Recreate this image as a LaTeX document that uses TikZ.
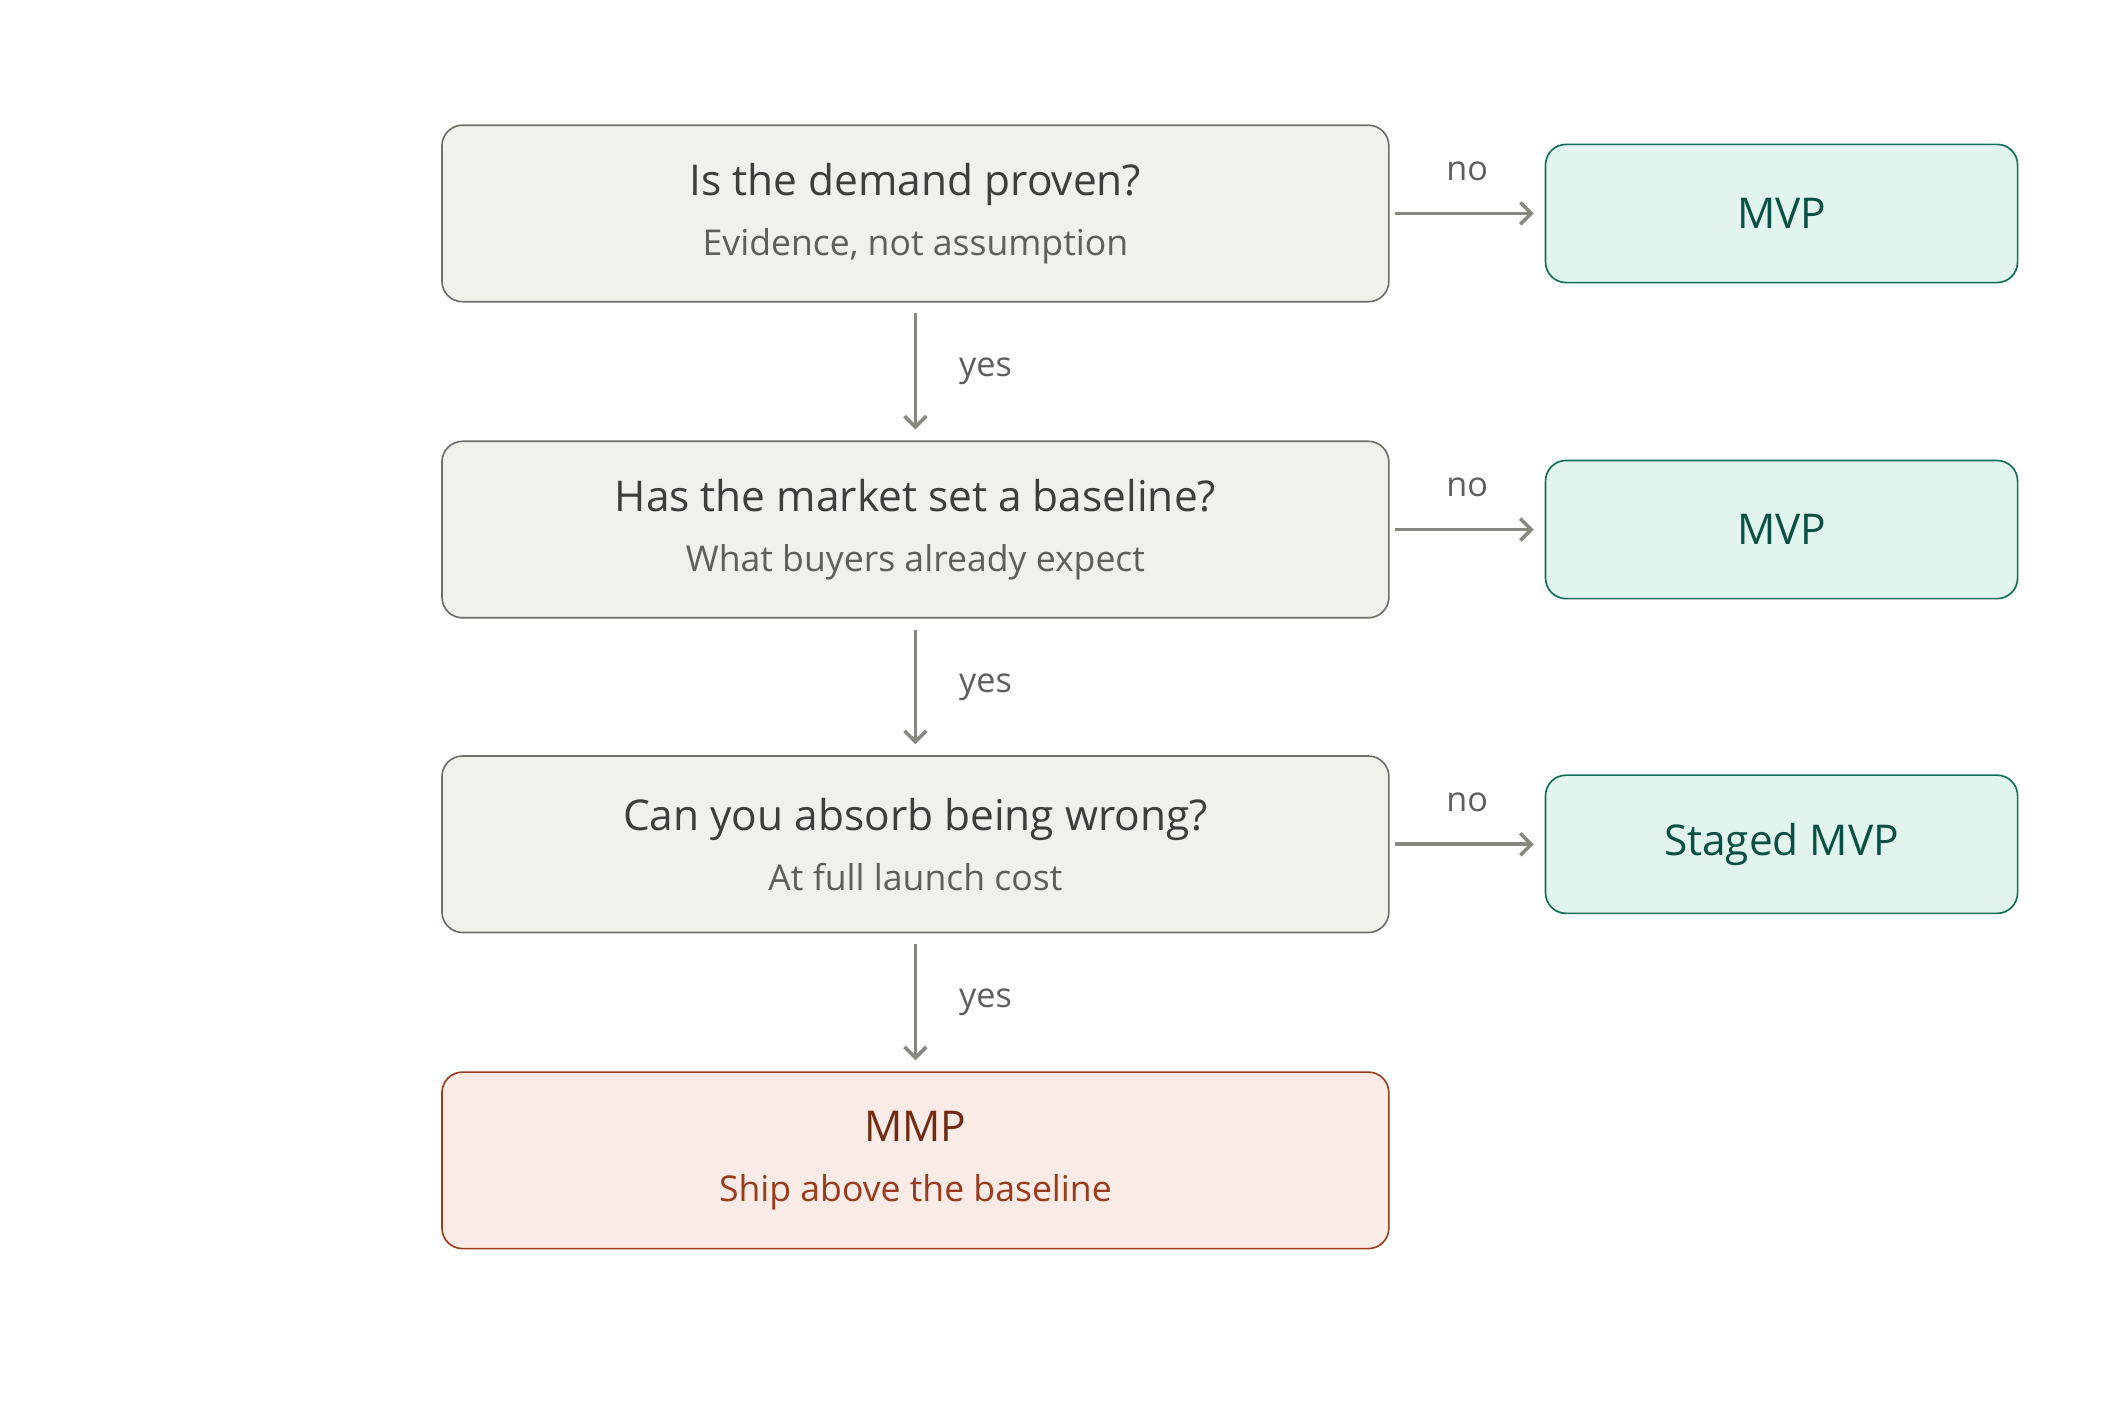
\documentclass[tikz,border=0pt]{standalone}
\usepackage{fontspec}
\setmainfont{Open Sans}
\usetikzlibrary{positioning, arrows.meta}
\definecolor{qfill}{HTML}{F1F0EB}
\definecolor{qdraw}{HTML}{6E6D68}
\definecolor{qtext}{HTML}{3D3D3A}
\definecolor{qsub}{HTML}{5F5E5A}
\definecolor{gfill}{HTML}{E1F5EE}
\definecolor{gdraw}{HTML}{0F6E56}
\definecolor{gtext}{HTML}{085041}
\definecolor{rfill}{HTML}{FBEBE6}
\definecolor{rdraw}{HTML}{993C1D}
\definecolor{rtext}{HTML}{712B13}
\definecolor{arr}{HTML}{888780}
\tikzset{
  question/.style={draw=qdraw, fill=qfill, rounded corners=7.5pt, line width=0.6pt,
    minimum width=346pt, minimum height=64.5pt, align=center, text=qtext,
    font=\fontsize{15.5}{19}\selectfont},
  answer/.style={draw=gdraw, fill=gfill, rounded corners=7.5pt, line width=0.6pt,
    minimum width=172.5pt, minimum height=50.5pt, text=gtext,
    font=\fontsize{15.5}{19}\selectfont},
  result/.style={draw=rdraw, fill=rfill, rounded corners=7.5pt, line width=0.6pt,
    minimum width=346pt, minimum height=64.5pt, align=center, text=rtext,
    font=\fontsize{15.5}{19}\selectfont},
  flow/.style={draw=arr, line width=1.3pt, -{Straight Barb[length=4pt,width=8pt]}},
  lbl/.style={text=qsub, font=\fontsize{12.5}{15}\selectfont},
}
\newcommand{\sub}[1]{\\[3pt]{\fontsize{13}{16}\selectfont #1}}
\begin{document}
\begin{tikzpicture}[x=0.5pt, y=-0.5pt]
  \useasboundingbox (0,0) rectangle (1553,1041);
  \node[question] (Q1) at (669, 156) {Is the demand proven?\sub{\color{qsub}Evidence, not assumption}};
  \node[question] (Q2) at (669, 387) {Has the market set a baseline?\sub{\color{qsub}What buyers already expect}};
  \node[question] (Q3) at (669, 617) {Can you absorb being wrong?\sub{\color{qsub}At full launch cost}};
  \node[result] (R) at (669, 848) {MMP\sub{\color{rdraw}Ship above the baseline}};

  \node[answer] (A1) at (1302, 156) {MVP};
  \node[answer] (A2) at (1302, 387) {MVP};
  \node[answer] (A3) at (1302, 617) {Staged MVP};

  \draw[flow, shorten <=4pt, shorten >=4pt] (Q1) -- node[lbl, right=12pt] {yes} (Q2);
  \draw[flow, shorten <=4pt, shorten >=4pt] (Q2) -- node[lbl, right=12pt] {yes} (Q3);
  \draw[flow, shorten <=4pt, shorten >=4pt] (Q3) -- node[lbl, right=12pt] {yes} (R);
  \draw[flow, shorten <=2pt, shorten >=4pt] (Q1) -- node[lbl, above=8pt] {no} (A1);
  \draw[flow, shorten <=2pt, shorten >=4pt] (Q2) -- node[lbl, above=8pt] {no} (A2);
  \draw[flow, shorten <=2pt, shorten >=4pt] (Q3) -- node[lbl, above=8pt] {no} (A3);
\end{tikzpicture}
\end{document}
